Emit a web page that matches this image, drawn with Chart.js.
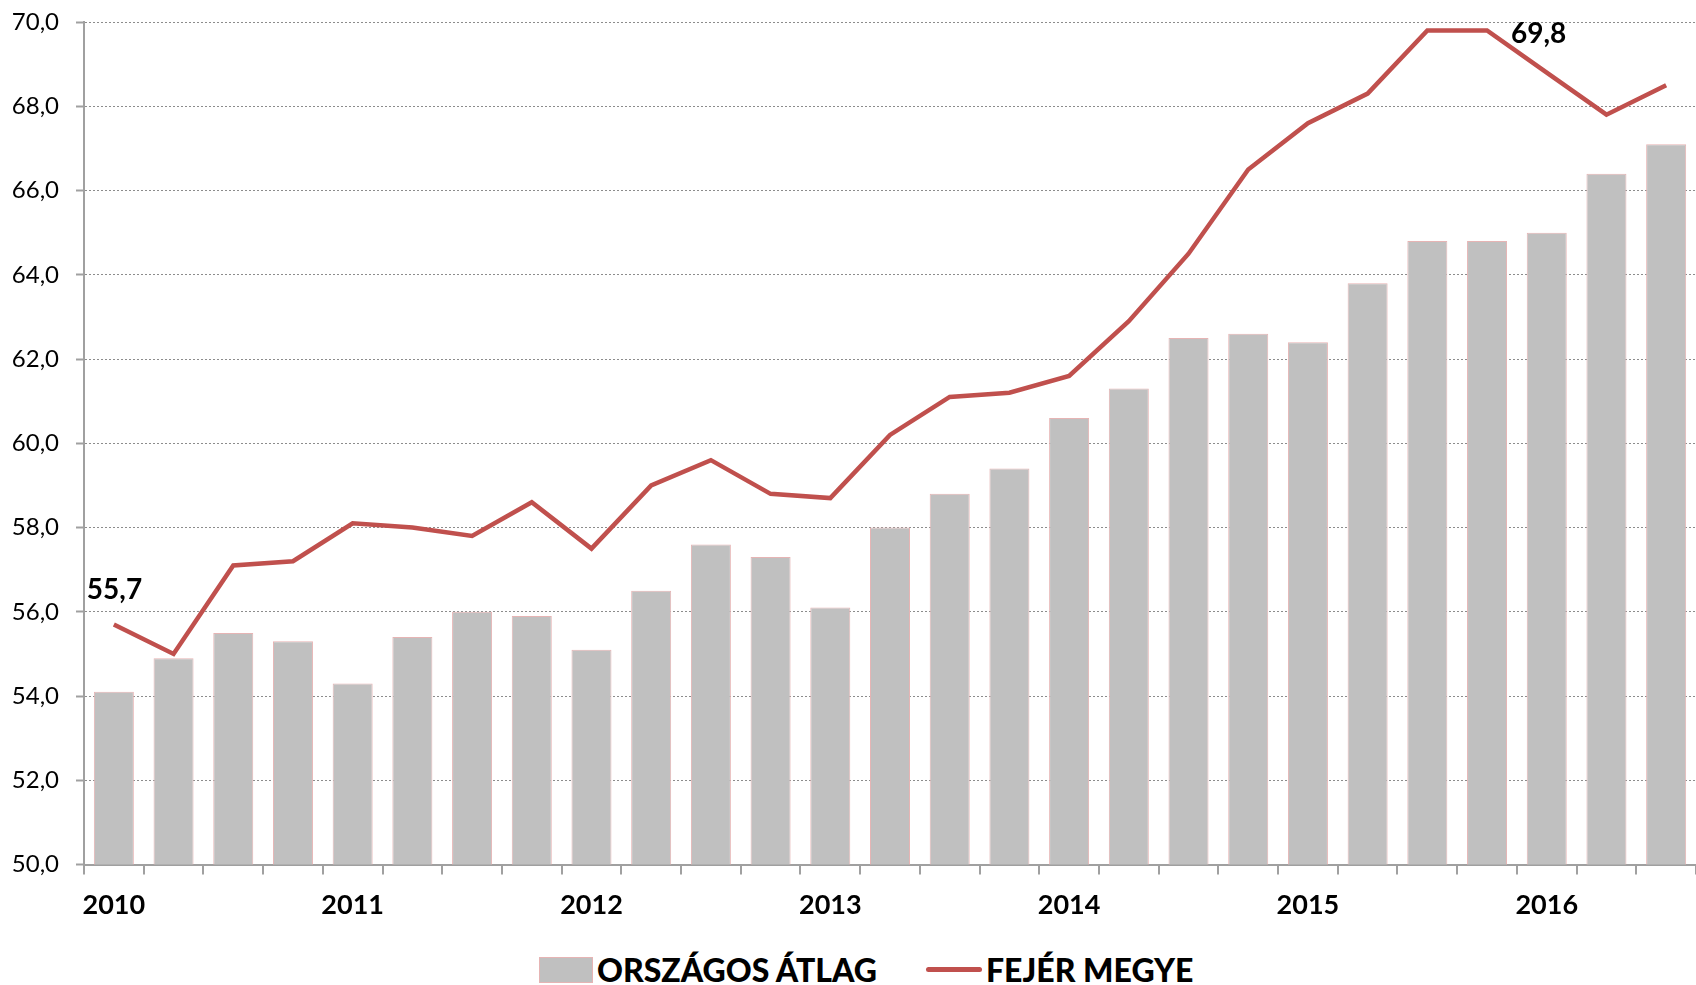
<!DOCTYPE html>
<html>
<head>
<meta charset="utf-8">
<script src="https://cdn.jsdelivr.net/npm/chart.js@4/dist/chart.umd.min.js"></script>
<style>
  html, body { margin: 0; padding: 0; background: #fff; }
  #wrap { position: relative; width: 1696px; height: 985px; overflow: hidden; }
  #chart { position: absolute; left: 0; top: 0; }
  .legend-item { position: absolute; font-family: Lato, sans-serif; font-weight: 900; font-size: 32px; color: #000; line-height: 32px; white-space: nowrap; }
  .swatch-bar { position: absolute; width: 52px; height: 24px; background: #c0c0c0; border: 1px solid #e6b4b4; }
  .swatch-line { position: absolute; width: 56px; height: 5px; background: #c0504d; border-radius: 2.5px; }
</style>
</head>
<body>
<div id="wrap">
  <canvas id="chart" width="1696" height="935"></canvas>
  <div class="swatch-bar" style="left:539px; top:957px;"></div>
  <div class="legend-item" style="left:597px; top:954px;">ORSZÁGOS ÁTLAG</div>
  <div class="swatch-line" style="left:926px; top:967px;"></div>
  <div class="legend-item" style="left:986px; top:954px;">FEJÉR MEGYE</div>
</div>
<script>
// Quarters 2010 Q1 .. 2016 Q3
const quarters = [
  "2010 I", "2010 II", "2010 III", "2010 IV",
  "2011 I", "2011 II", "2011 III", "2011 IV",
  "2012 I", "2012 II", "2012 III", "2012 IV",
  "2013 I", "2013 II", "2013 III", "2013 IV",
  "2014 I", "2014 II", "2014 III", "2014 IV",
  "2015 I", "2015 II", "2015 III", "2015 IV",
  "2016 I", "2016 II", "2016 III"
];
const yearLabels = ["2010", "2011", "2012", "2013", "2014", "2015", "2016"];

const orszagosAtlag = [
  54.1, 54.9, 55.5, 55.3,
  54.3, 55.4, 56.0, 55.9,
  55.1, 56.5, 57.6, 57.3,
  56.1, 58.0, 58.8, 59.4,
  60.6, 61.3, 62.5, 62.6,
  62.4, 63.8, 64.8, 64.8,
  65.0, 66.4, 67.1
];
const fejerMegye = [
  55.7, 55.0, 57.1, 57.2,
  58.1, 58.0, 57.8, 58.6,
  57.5, 59.0, 59.6, 58.8,
  58.7, 60.2, 61.1, 61.2,
  61.6, 62.9, 64.5, 66.5,
  67.6, 68.3, 69.8, 69.8,
  68.8, 67.8, 68.5
];
const yTicks = [50, 52, 54, 56, 58, 60, 62, 64, 66, 68, 70];

// labelled points on the county line: index, text, offset from point
const lineLabels = [
  { index: 0, text: "55,7", dx: -27, dy: -34 },
  { index: 23, text: "69,8", dx: 24, dy: 4 }
];

const axisGray = "#a0a0a0";
const fmt = v => v.toFixed(1).replace(".", ",");

const lineLabelPlugin = {
  id: "lineLabels",
  afterDatasetsDraw(chart) {
    const meta = chart.getDatasetMeta(0);
    const ctx = chart.ctx;
    ctx.save();
    ctx.font = "bold 28px Lato";
    ctx.fillStyle = "#000";
    ctx.textAlign = "left";
    ctx.textBaseline = "middle";
    lineLabels.forEach(l => {
      const pt = meta.data[l.index];
      ctx.fillText(l.text, pt.x + l.dx, pt.y + l.dy);
    });
    ctx.restore();
  }
};

new Chart(document.getElementById("chart"), {
  data: {
    labels: quarters,
    datasets: [
      {
        type: "line",
        label: "FEJÉR MEGYE",
        data: fejerMegye,
        borderColor: "#c0504d",
        borderWidth: 4.5,
        pointRadius: 0,
        tension: 0,
        order: 0
      },
      {
        type: "bar",
        label: "ORSZÁGOS ÁTLAG",
        data: orszagosAtlag,
        backgroundColor: "#c0c0c0",
        borderColor: "#e6b4b4",
        borderWidth: 1,
        borderSkipped: "bottom",
        categoryPercentage: 1,
        barPercentage: 0.67,
        order: 1
      }
    ]
  },
  options: {
    responsive: false,
    animation: false,
    layout: { padding: { top: 22, right: 0, left: 0, bottom: 0 } },
    plugins: {
      legend: { display: false },
      tooltip: { enabled: false }
    },
    scales: {
      x: {
        offset: true,
        grid: {
          offset: true,
          drawOnChartArea: false,
          drawTicks: true,
          tickLength: 10,
          color: axisGray,
          lineWidth: 2
        },
        border: { display: true, color: axisGray, width: 2 },
        ticks: {
          autoSkip: false,
          maxRotation: 0,
          padding: 14,
          color: "#000",
          font: { family: "Lato", size: 27, weight: "bold" },
          callback: (val, i) => (i % 4 === 0 ? yearLabels[i / 4] : "")
        }
      },
      y: {
        min: 50,
        max: 70,
        afterFit: scale => {
          scale.width = 84;
          scale.paddingTop = 0;
          scale.paddingBottom = 0;
        },
        afterBuildTicks: scale => { scale.ticks = yTicks.map(v => ({ value: v })); },
        grid: {
          color: "#8c8c8c",
          lineWidth: 1,
          tickLength: 8,
          tickColor: axisGray,
          tickWidth: 2
        },
        border: { display: true, color: axisGray, width: 2, dash: [2, 2] },
        ticks: {
          padding: 17,
          color: "#000",
          font: { family: "Lato", size: 24 },
          callback: v => fmt(v)
        }
      }
    }
  },
  plugins: [lineLabelPlugin]
});
</script>
</body>
</html>
